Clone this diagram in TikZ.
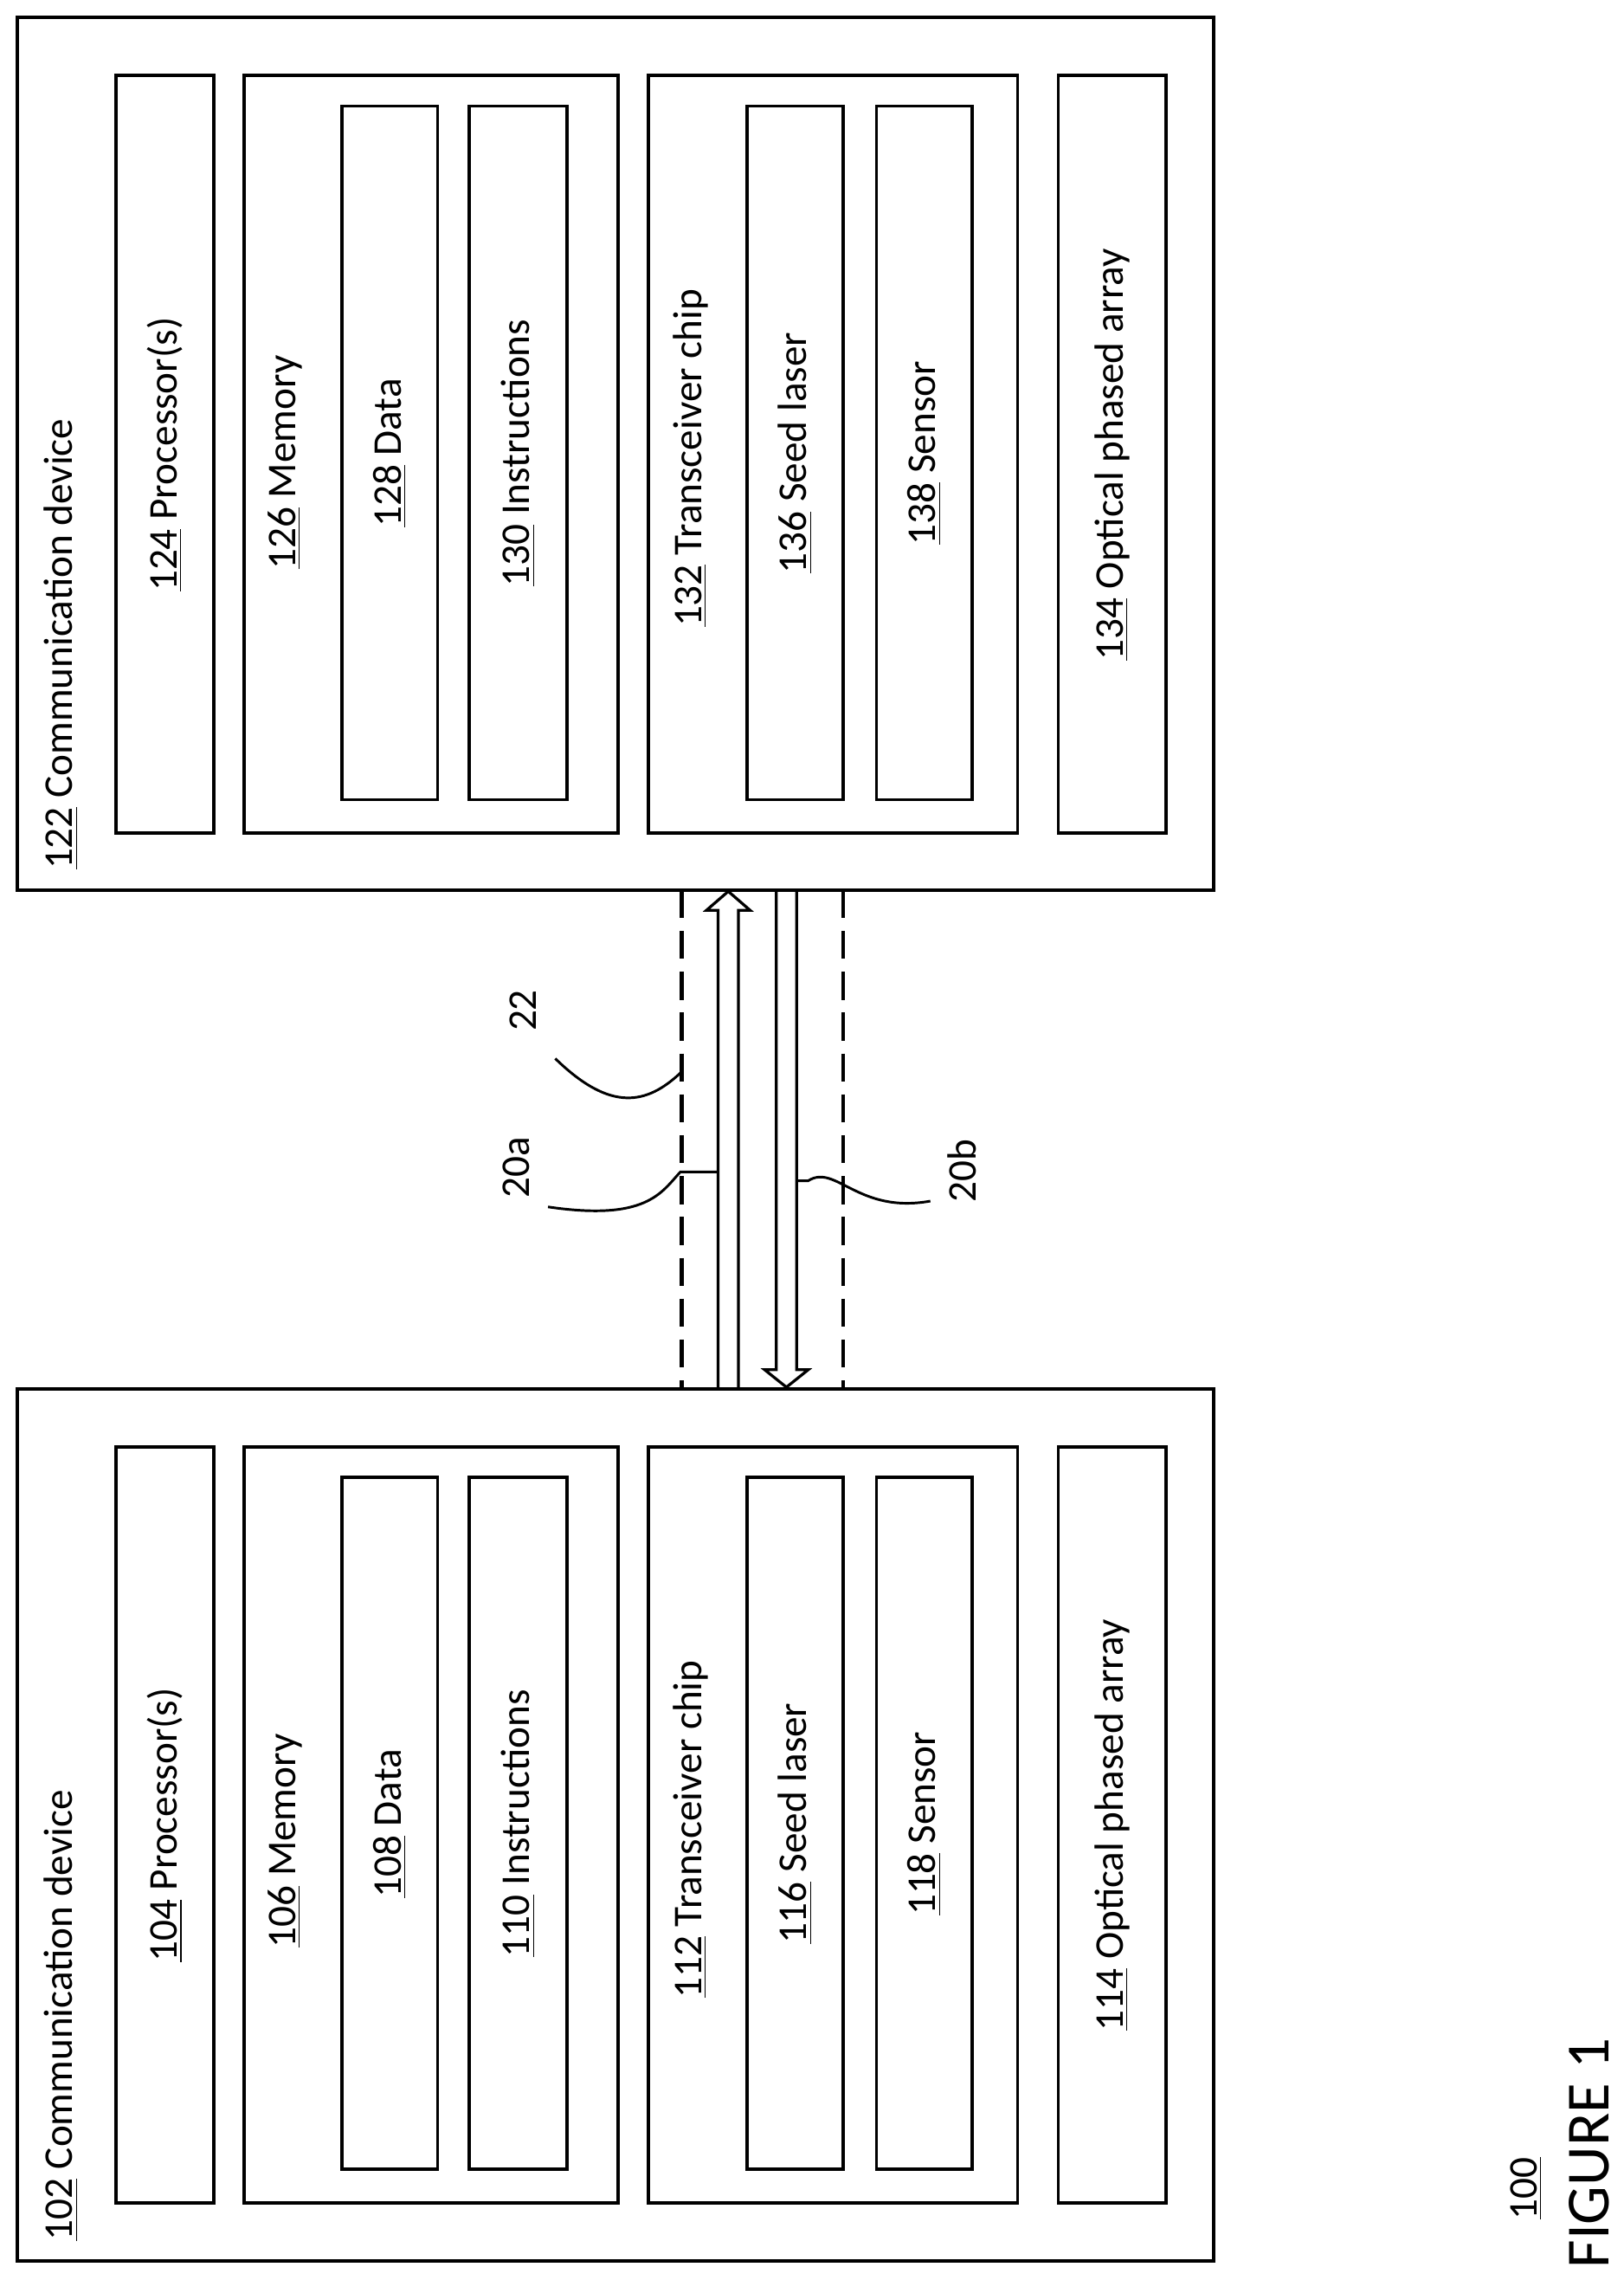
\documentclass[tikz,border=0pt]{standalone}
\usepackage{fontspec}
\setmainfont{Carlito}
\usetikzlibrary{fit}
\tikzset{
  dev/.style={draw,line width=1.3pt,inner sep=0pt},
  blk/.style={draw,line width=1.3pt,inner sep=0pt},
  lbl/.style={rotate=90,font=\fontsize{16}{18}\selectfont,inner sep=1pt},
  chan/.style={line width=1.5pt,dash pattern=on 11pt off 5pt},
  lead/.style={line width=1pt}
}
\begin{document}
\begin{tikzpicture}[x=0.02cm,y=-0.02cm]
\useasboundingbox (0,0) rectangle (1117,1568);

% communication device 122
\node[dev,fit={(12,12) (835,612)}] (d122) {};
\node[lbl,anchor=west] at (42,600) {\underline{122} Communication device};
\node[blk,fit={(80,52) (147,573)}] (p124) {};
\node[lbl] at (p124.center) {\underline{124} Processor(s)};
\node[blk,fit={(168,52) (425,573)}] (m126) {};
\node[lbl] at (196,318) {\underline{126} Memory};
\node[blk,fit={(235,73) (301,550)}] (d128) {};
\node[lbl] at (d128.center) {\underline{128} Data};
\node[blk,fit={(323,73) (390,550)}] (i130) {};
\node[lbl] at (i130.center) {\underline{130} Instructions};
\node[blk,fit={(446,52) (700,573)}] (t132) {};
\node[lbl] at (475,315) {\underline{132} Transceiver chip};
\node[blk,fit={(514,73) (580,550)}] (s136) {};
\node[lbl] at (s136.center) {\underline{136} Seed laser};
\node[blk,fit={(603,73) (669,550)}] (s138) {};
\node[lbl] at (s138.center) {\underline{138} Sensor};
\node[blk,fit={(728,52) (802,573)}] (o134) {};
\node[lbl] at (o134.center) {\underline{134} Optical phased array};

% communication device 102
\node[dev,fit={(12,955) (835,1555)}] (d102) {};
\node[lbl,anchor=west] at (42,1543) {\underline{102} Communication device};
\node[blk,fit={(80,995) (147,1515)}] (p104) {};
\node[lbl] at (p104.center) {\underline{104} Processor(s)};
\node[blk,fit={(168,995) (425,1515)}] (m106) {};
\node[lbl] at (196,1266) {\underline{106} Memory};
\node[blk,fit={(235,1016) (301,1492)}] (d108) {};
\node[lbl] at (d108.center) {\underline{108} Data};
\node[blk,fit={(323,1016) (390,1492)}] (i110) {};
\node[lbl] at (i110.center) {\underline{110} Instructions};
\node[blk,fit={(446,995) (700,1515)}] (t112) {};
\node[lbl] at (475,1258) {\underline{112} Transceiver chip};
\node[blk,fit={(514,1016) (580,1492)}] (s116) {};
\node[lbl] at (s116.center) {\underline{116} Seed laser};
\node[blk,fit={(603,1016) (669,1492)}] (s118) {};
\node[lbl] at (s118.center) {\underline{118} Sensor};
\node[blk,fit={(728,995) (802,1515)}] (o114) {};
\node[lbl] at (o114.center) {\underline{114} Optical phased array};

% channel 22
\draw[chan] (469,612) -- (469,955);
\draw[chan] (580,612) -- (580,955);

% arrows 20a and 20b
\draw[line width=1.1pt] (494,955) -- (494,626) -- (486,626) -- (501,613) -- (516,626)
  -- (508,626) -- (508,955);
\draw[line width=1.1pt] (534,612) -- (534,942) -- (526,942) -- (541,954) -- (556,942)
  -- (548,942) -- (548,612);

% leaders
\node[lbl] (l22) at (360,695) {22};
\node[lbl] (l20a) at (355,803) {20a};
\node[lbl] (l20b) at (662,805) {20b};
\draw[lead] (382,728) .. controls (420,765) and (445,760) .. (469,737);
\draw[lead] (377,830) .. controls (445,840) and (455,820) .. (468,806) -- (494,806);
\draw[lead] (548,812) -- (556,812) .. controls (575,800) and (590,835) .. (640,826);

% figure caption
\node[lbl] at (1050,1505) {\underline{100}};
\node[lbl,anchor=west,font=\fontsize{24}{27}\selectfont] at (1093,1562) {FIGURE 1};
\end{tikzpicture}
\end{document}
